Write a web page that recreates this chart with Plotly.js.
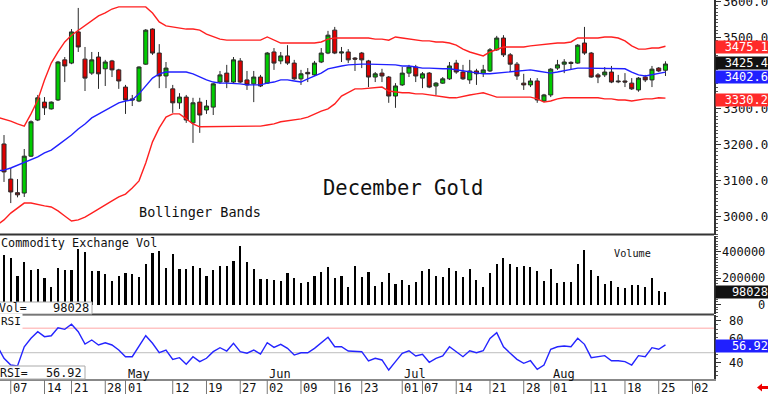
<!DOCTYPE html>
<html><head><meta charset="utf-8">
<script src="https://cdn.plot.ly/plotly-3.0.1.min.js"></script>
<style>html,body{margin:0;padding:0;background:#fff;}#chart{width:768px;height:394px;}</style>
</head><body><div id="chart"></div>
<script>
// ---- trading days (categories) ----
const aprDays=[3,4,7,8,9,10,11,14,15,16,17,21,22,23,24,25,28,29,30];
const mayDays=[1,2,5,6,7,8,9,12,13,14,15,16,19,20,21,22,23,27,28,29,30];
const junDays=[2,3,4,5,6,9,10,11,12,13,16,17,18,20,23,24,25,26,27,30];
const julDays=[1,2,3,7,8,9,10,11,14,15,16,17,18,21,22,23,24,25,28,29,30,31];
const augDays=[1,4,5,6,7,8,11,12,13,14,15,18,19,20,21,22,25,26,27,28,29];
const sepDays=[2,3,4,5,8];

// ---- December Gold daily OHLC (Apr 4 .. Aug 26) ----
const openP=[3202,3104,3066,3065,3168,3269,3319,3300,3325,3437,
3428,3515,3439,3400,3445,3412,3434,3409,3361,3328,
3322,3425,3523,3456,3392,3356,3317,3333,3261,3319,
3297,3305,3375,3400,3375,3434,3381,3370,3389,3372,
3459,3434,3448,3428,3384,3402,3395,3431,3456,3520,
3456,3459,3442,3456,3434,3389,3400,3389,3336,3367,
3400,3417,3386,3400,3364,3372,3384,3428,3403,3381,
3406,3400,3406,3465,3498,3451,3425,3372,3367,3378,
3322,3339,3414,3425,3430,3428,3484,3456,3395,3395,
3403,3378,3378,3372,3353,3389,3381,3414,3408];
const highP=[3227,3135,3104,3188,3268,3339,3333,3321,3434,3445,
3523,3582,3473,3459,3459,3437,3437,3412,3367,3339,
3419,3523,3525,3481,3431,3367,3344,3339,3331,3331,
3325,3372,3406,3423,3445,3442,3406,3406,3395,3459,
3470,3459,3478,3437,3409,3414,3434,3470,3518,3529,
3473,3467,3445,3459,3437,3403,3412,3392,3372,3417,
3423,3423,3403,3403,3375,3389,3431,3437,3423,3437,
3412,3423,3470,3504,3506,3456,3431,3398,3386,3386,
3342,3414,3437,3439,3433,3481,3529,3459,3400,3417,
3420,3395,3400,3386,3389,3395,3420,3417,3433];
const lowP=[3096,3037,3053,3054,3166,3266,3283,3298,3322,3375,
3425,3459,3350,3395,3356,3364,3389,3356,3286,3308,
3319,3423,3451,3358,3358,3289,3300,3261,3205,3233,
3286,3283,3370,3358,3372,3372,3353,3319,3361,3370,
3409,3425,3423,3381,3367,3375,3392,3428,3453,3453,
3431,3428,3406,3414,3361,3375,3375,3317,3303,3364,
3389,3375,3358,3358,3339,3370,3381,3398,3381,3370,
3367,3389,3403,3462,3445,3403,3381,3353,3361,3317,
3319,3333,3409,3400,3409,3426,3451,3387,3372,3389,
3372,3372,3361,3353,3348,3375,3361,3403,3392];
const closeP=[3124,3068,3060,3168,3264,3331,3303,3319,3431,3420,
3515,3473,3386,3437,3398,3431,3409,3378,3325,3325,
3417,3520,3456,3392,3414,3317,3333,3269,3317,3283,
3308,3370,3395,3375,3437,3375,3367,3389,3364,3456,
3428,3448,3428,3384,3398,3398,3428,3456,3506,3456,
3459,3437,3439,3437,3389,3398,3392,3336,3364,3400,
3417,3392,3398,3361,3372,3384,3420,3403,3384,3406,
3398,3409,3465,3498,3451,3425,3392,3367,3378,3325,
3339,3411,3423,3431,3427,3478,3456,3389,3389,3403,
3375,3376,3375,3356,3386,3381,3411,3406,3425.4];

// ---- Bollinger bands (Apr 3 .. Aug 26) ----
const upperBand=[3277,3272,3266,3258,3252,3286,3325,3381,3428,3459,
3487,3506,3520,3532,3546,3560,3568,3579,3585,3585,
3585,3585,3585,3568,3543,3532,3529,3526,3523,3523,
3520,3509,3501,3495,3492,3492,3492,3492,3492,3492,
3501,3492,3484,3484,3484,3484,3484,3484,3487,3495,
3498,3498,3498,3498,3498,3498,3495,3495,3492,3501,
3498,3495,3492,3490,3490,3487,3487,3484,3478,3467,
3459,3453,3448,3459,3467,3473,3473,3473,3473,3476,
3478,3481,3481,3484,3484,3487,3498,3498,3498,3498,
3501,3501,3498,3490,3476,3467,3467,3470,3470,3475.1];
const midBand=[3127,3129,3135,3143,3149,3157,3166,3177,3185,3199,
3213,3227,3244,3258,3275,3286,3297,3308,3317,3322,
3325,3342,3364,3386,3398,3403,3403,3403,3403,3398,
3389,3381,3375,3372,3372,3372,3370,3367,3367,3367,
3372,3375,3381,3381,3378,3375,3384,3392,3400,3412,
3417,3420,3423,3425,3425,3425,3425,3425,3423,3423,
3420,3420,3417,3414,3414,3412,3412,3412,3409,3406,
3403,3400,3398,3398,3400,3403,3403,3406,3409,3409,
3406,3403,3400,3403,3406,3409,3414,3414,3414,3414,
3414,3414,3414,3412,3403,3395,3392,3395,3398,3402.6];
const lowerBand=[2976,2990,3009,3023,3037,3037,3032,3029,3026,3015,
3001,2987,2990,2998,3009,3021,3032,3043,3054,3062,
3079,3099,3149,3208,3247,3277,3286,3286,3272,3258,
3250,3250,3250,3250,3250,3250,3250,3250,3252,3252,
3255,3258,3264,3266,3269,3272,3277,3286,3294,3300,
3314,3336,3347,3356,3356,3358,3358,3361,3350,3347,
3345,3345,3342,3342,3339,3336,3333,3331,3331,3336,
3339,3342,3345,3339,3333,3333,3333,3333,3333,3333,
3328,3319,3322,3328,3331,3331,3331,3331,3331,3331,
3328,3328,3325,3325,3322,3325,3328,3328,3331,3330.2];

// ---- Volume (Apr 4 .. Aug 26) ----
const volume=[376000,356000,217000,326000,262000,270000,199000,135000,275000,262000,
262000,422000,401000,257000,257000,232000,179000,219000,237000,232000,
207000,306000,389000,407000,280000,382000,270000,270000,293000,275000,
217000,262000,293000,295000,331000,447000,326000,268000,194000,194000,
186000,179000,242000,199000,161000,173000,217000,245000,283000,204000,
219000,135000,295000,207000,245000,141000,169000,237000,154000,186000,
148000,169000,255000,270000,217000,211000,280000,255000,211000,270000,
186000,131000,242000,306000,356000,308000,283000,293000,287000,255000,
181000,270000,161000,173000,173000,308000,414000,262000,217000,156000,
179000,131000,128000,148000,148000,135000,199000,103000,98028];

// ---- RSI (Apr 3 .. Aug 26) ----
const rsi=[56,44.2,37.8,36.9,55.2,63.2,69.5,64.8,65.7,73.3,
71.8,76.6,69.5,57.8,61.6,56.9,59.0,56.9,52.1,45.7,
45.7,55.2,65.7,58.5,49.5,52.1,43.2,44.8,38.5,45.7,
41.0,44.2,50.5,54.3,51.1,58.5,50.5,49.0,52.1,48.3,
59.0,54.6,57.5,53.7,47.3,49.5,49.5,53.7,59.0,64.2,
55.2,55.2,51.1,50.5,50.5,41.6,44.2,42.6,33.0,41.0,
49.0,51.4,46.4,48.0,40.4,44.2,46.4,55.2,50.5,45.7,
51.4,49.5,51.4,63.2,68.6,55.2,49.0,43.2,39.4,41.9,
33.7,37.8,52.8,55.2,55.9,55.2,63.2,57.5,44.8,45.7,
46.7,41.9,41.9,41.0,37.8,46.7,45.7,54.3,52.8,56.92];
const rsiUpperLine=72.8, rsiMidLine=49.5;

// ---- tick labels ----
const tickDates=['2025-04-07','2025-04-14','2025-04-21','2025-04-28','2025-05-01','2025-05-12','2025-05-19','2025-05-27','2025-06-02','2025-06-09','2025-06-16','2025-06-23','2025-07-01','2025-07-07','2025-07-14','2025-07-21','2025-07-28','2025-08-01','2025-08-11','2025-08-18','2025-08-25','2025-09-02'];
const tickText=['07','14','21','28','01','12','19','27','02','09','16','23','01','07','14','21','28','01','11','18','25','02'];
const monthDates=['2025-05-01','2025-06-02','2025-07-01','2025-08-01'];
const monthText=['May','Jun','Jul','Aug'];
const priceTicks=[3000,3100,3200,3300,3400,3500,3600];
const priceTickText=['3000.0','3100.0','3200.0','3300.0','','3500.0','3600.0']; // 3400.0 is hidden behind the value boxes
const volTicks=[0,200000,400000];
const volTickText=['0','200000','400000'];
const rsiTicks=[40,60,80];

// ---- build categories ----
const pad=d=>(d<10?'0':'')+d;
const dates=[].concat(
  aprDays.map(d=>'2025-04-'+pad(d)), mayDays.map(d=>'2025-05-'+pad(d)),
  junDays.map(d=>'2025-06-'+pad(d)), julDays.map(d=>'2025-07-'+pad(d)),
  augDays.map(d=>'2025-08-'+pad(d)), sepDays.map(d=>'2025-09-'+pad(d)));
const bandDates=dates.slice(0,100);
const candleDates=dates.slice(1,100);

// ---- geometry helpers (layout only) ----
const W=768,H=394,MR=54,MB=15;
const PW=W-MR, PH=H-MB;
const px=x=>x/PW;
const py=y=>(PH-y)/PH;
const F='DejaVu Sans Mono, monospace';

const traces=[
  {type:'scatter',x:dates,y:dates.map(()=>null),mode:'lines',yaxis:'y3',hoverinfo:'skip',showlegend:false},
  {type:'scatter',x:bandDates,y:upperBand,mode:'lines',line:{color:'#ff2020',width:1.4},hoverinfo:'skip'},
  {type:'scatter',x:bandDates,y:lowerBand,mode:'lines',line:{color:'#ff2020',width:1.4},hoverinfo:'skip'},
  {type:'scatter',x:bandDates,y:midBand,mode:'lines',line:{color:'#2020ff',width:1.4},hoverinfo:'skip'},
  {type:'candlestick',x:candleDates,open:openP,high:highP,low:lowP,close:closeP,
   increasing:{fillcolor:'#00cc00',line:{color:'#2a2a2a',width:1}},
   decreasing:{fillcolor:'#e00000',line:{color:'#2a2a2a',width:1}},
   whiskerwidth:0,hoverinfo:'skip'},
  {type:'bar',x:candleDates,y:volume,yaxis:'y2',width:0.3,marker:{color:'#000',line:{width:0}},hoverinfo:'skip'},
  {type:'scatter',x:bandDates,y:rsi,yaxis:'y3',mode:'lines',line:{color:'#2424ff',width:1.4},hoverinfo:'skip'}
];

const shapes=[
  {type:'line',xref:'paper',yref:'y3',x0:0,x1:1,y0:rsiUpperLine,y1:rsiUpperLine,line:{color:'#ffc4c4',width:1.5},layer:'below'},
  {type:'line',xref:'paper',yref:'y3',x0:0,x1:1,y0:rsiMidLine,y1:rsiMidLine,line:{color:'#bdbdbd',width:1},layer:'below'},
  {type:'line',xref:'paper',yref:'paper',x0:0,x1:1,y0:py(234.5),y1:py(234.5),line:{color:'#333',width:2}},
  {type:'line',xref:'paper',yref:'paper',x0:0,x1:1,y0:py(314.5),y1:py(314.5),line:{color:'#444',width:2}},
  {type:'rect',xref:'paper',yref:'paper',x0:-0.01,x1:px(92),y0:py(314),y1:py(302),fillcolor:'#fff',line:{color:'#aaa',width:1}},
  {type:'rect',xref:'paper',yref:'paper',x0:-0.01,x1:px(85),y0:py(379),y1:py(366),fillcolor:'#fff',line:{color:'#aaa',width:1}},
  {type:'path',xref:'paper',yref:'paper',
   path:`M ${px(757)} ${py(387.5)} L ${px(762)} ${py(383.5)} L ${px(762)} ${py(386)} L ${px(768)} ${py(386)} L ${px(768)} ${py(389)} L ${px(762)} ${py(389)} L ${px(762)} ${py(391.5)} Z`,
   fillcolor:'#ee0000',line:{width:0}}
];
tickDates.forEach(d=>shapes.push({type:'line',xref:'x',yref:'paper',x0:d,x1:d,y0:py(380),y1:py(394),line:{color:'#777',width:1}}));

const ann=[];
const txt=(o)=>Object.assign({showarrow:false,font:{family:F,size:12,color:'#111'}},o);
ann.push(txt({xref:'paper',yref:'paper',x:px(321),y:py(187.5),xanchor:'left',yanchor:'middle',text:'December Gold',font:{family:F,size:20.5,color:'#111'}}));
ann.push(txt({xref:'paper',yref:'paper',x:px(137),y:py(212),xanchor:'left',yanchor:'middle',text:'Bollinger Bands',font:{family:F,size:13.5,color:'#111'}}));
ann.push(txt({xref:'paper',yref:'paper',x:0,y:py(242.7),xanchor:'left',yanchor:'middle',xshift:-1,text:'Commodity Exchange Vol',font:{family:F,size:11.8,color:'#111'}}));
ann.push(txt({xref:'paper',yref:'paper',x:px(612),y:py(253),xanchor:'left',yanchor:'middle',text:'Volume',font:{family:F,size:10.2,color:'#111'}}));
ann.push(txt({xref:'paper',yref:'paper',x:0,y:py(321.7),xanchor:'left',yanchor:'middle',xshift:-1,text:'RSI',bgcolor:'#fff',font:{family:F,size:11,color:'#111'}}));
ann.push(txt({xref:'paper',yref:'paper',x:0,y:py(308),xanchor:'left',yanchor:'middle',xshift:-3,text:'Vol=',font:{family:F,size:11.5,color:'#111'}}));
ann.push(txt({xref:'paper',yref:'paper',x:px(91),y:py(308),xanchor:'right',yanchor:'middle',text:'98028',font:{family:F,size:12,color:'#111'}}));
ann.push(txt({xref:'paper',yref:'paper',x:0,y:py(372.5),xanchor:'left',yanchor:'middle',xshift:-2,text:'RSI=',font:{family:F,size:11.5,color:'#111'}}));
ann.push(txt({xref:'paper',yref:'paper',x:px(84),y:py(372.5),xanchor:'right',yanchor:'middle',text:'56.92',font:{family:F,size:11.8,color:'#111'}}));
tickDates.forEach((d,i)=>ann.push(txt({xref:'x',yref:'paper',x:d,y:py(387.5),xanchor:'left',yanchor:'middle',text:tickText[i]})));
monthDates.forEach((d,i)=>ann.push(txt({xref:'x',yref:'paper',x:d,y:py(374),xanchor:'left',yanchor:'middle',text:monthText[i]})));
volTicks.forEach((v,i)=>ann.push(txt({xref:'paper',yref:'y2',x:px(767),y:v,xanchor:'right',yanchor:'middle',text:volTickText[i]})));
rsiTicks.forEach(v=>ann.push(txt({xref:'paper',yref:'y3',x:px(745),y:v,xanchor:'right',yanchor:'middle',yshift:(v===60?3:0),text:String(v)})));
const box=(yref,y,t,bg,ys)=>txt({xref:'paper',x:1,xanchor:'left',xshift:1,yref:yref,y:y,yanchor:'middle',yshift:ys||0,text:t,
  bgcolor:bg,width:51,height:10,borderpad:1,align:'right',font:{family:F,size:12,color:'#fff'}});
ann.push(box('y',midBand[99],'3402.6','#2020ff',-5));
ann.push(box('y',closeP[98],'3425.4','#111111',1));
ann.push(box('y',upperBand[99],'3475.1','#ff2a2a',-1));
ann.push(box('y',lowerBand[99],'3330.2','#ff2a2a',-1.5));
ann.push(box('y2',volume[98],'98028','#111111',0));
ann.push(box('y3',rsi[99],'56.92','#2020ff',-1));

const yCommon={side:'right',anchor:'x',showline:true,linecolor:'#333',linewidth:1.5,ticks:'outside',ticklen:5,tickcolor:'#333',
  showgrid:false,zeroline:false,fixedrange:true};
const layout={
  width:W,height:H,margin:{l:0,r:MR,t:0,b:MB,pad:0},
  paper_bgcolor:'#fff',plot_bgcolor:'#fff',showlegend:false,
  boxgap:0.25,boxgroupgap:0.2,bargap:0,
  xaxis:{type:'category',categoryorder:'array',categoryarray:dates,range:[0.407,106.19],
    showticklabels:false,ticks:'',showgrid:false,zeroline:false,showline:true,linecolor:'#888',linewidth:2,
    anchor:'y3',rangeslider:{visible:false},fixedrange:true},
  yaxis:Object.assign({},yCommon,{domain:[py(235),1],range:[2947.8,3604.2],tickmode:'array',tickvals:priceTicks,
    ticktext:priceTickText,ticklabeloverflow:'allow',tickfont:{family:F,size:12.5,color:'#111'},
    minor:{ticks:'outside',ticklen:2,tickmode:'linear',tick0:3000,dtick:10,tickcolor:'#555'}}),
  yaxis2:Object.assign({},yCommon,{domain:[py(314),py(236)],range:[-72200,520900],tickmode:'array',tickvals:volTicks,
    showticklabels:false,minor:{ticks:'outside',ticklen:2,tickmode:'linear',tick0:0,dtick:20000,tickcolor:'#555'}}),
  yaxis3:Object.assign({},yCommon,{domain:[0,py(315)],range:[24.48,85.43],tickmode:'array',tickvals:rsiTicks,
    showticklabels:false,minor:{ticks:'outside',ticklen:2,tickmode:'linear',tick0:0,dtick:4,tickcolor:'#555'}}),
  shapes:shapes,annotations:ann
};
Plotly.newPlot('chart',traces,layout,{staticPlot:true,displayModeBar:false});
</script></body></html>
